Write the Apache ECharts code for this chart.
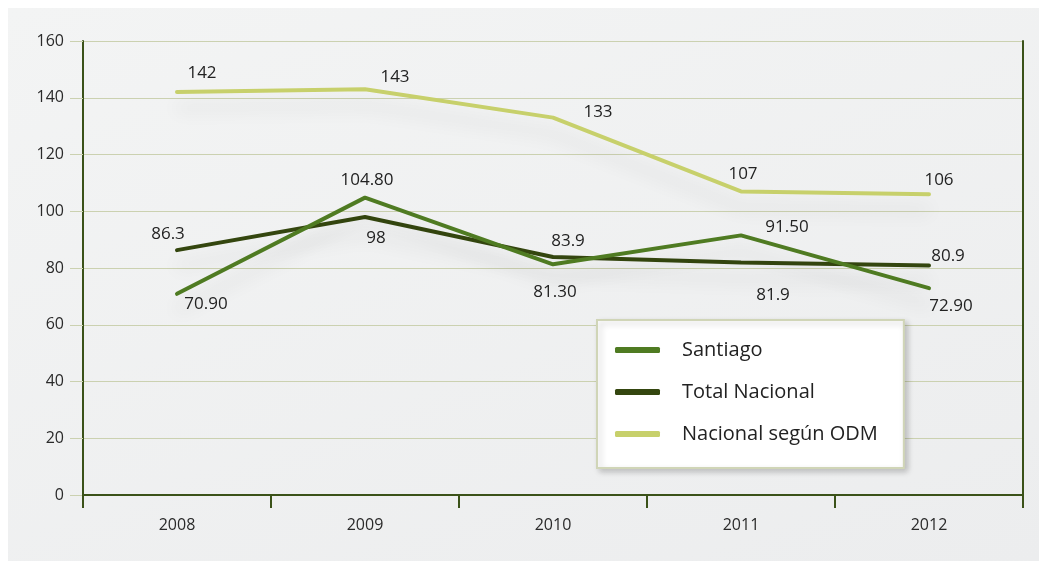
<!DOCTYPE html>
<html lang="es">
<head>
<meta charset="utf-8">
<title>Santiago / Total Nacional / Nacional según ODM</title>
<style>
    html, body { margin: 0; padding: 0; background: #fff; }
    #id-bg {
        position: absolute; left: 8px; top: 8px; width: 1031px; height: 553px;
        background: linear-gradient(160deg, #f3f4f4 0%, #ecedee 100%);
    }
    #id-main-area { position: absolute; left: 0; top: 0; width: 1039px; height: 561px; }
</style>
</head>
<body>
<div id="id-bg"></div>
<div id="id-main-area"></div>
<script src="https://cdn.jsdelivr.net/npm/echarts@6/dist/echarts.min.js"></script>
<script>
    var years = ['2008', '2009', '2010', '2011', '2012']
    var santiago = [70.90, 104.80, 81.30, 91.50, 72.90]
    var totalNacional = [86.3, 98, 83.9, 81.9, 80.9]
    var nacionalOdm = [142, 143, 133, 107, 106]
    var santiagoText = ['70.90', '104.80', '81.30', '91.50', '72.90']
    var totalText = ['86.3', '98', '83.9', '81.9', '80.9']
    var odmText = ['142', '143', '133', '107', '106']

    // label offsets (px), one per point
    var santiagoOffsets = [[29, 10], [2, -17], [2, 28], [46, -8], [22, 18]]
    var totalOffsets = [[-9, -16], [11, 21], [15, -16], [32, 33], [19, -9]]
    var odmOffsets = [[25, -19], [30, -12], [45, -5], [2, -17], [10, -14]]

    var font = '"Open Sans", "Noto Sans", sans-serif'

    var buildData = (values, texts, offsets) => {
        var l = []
        for (var i = 0; i < values.length; i++) {
            l.push({
                value: values[i],
                label: {
                    show: true,
                    position: 'inside',
                    offset: offsets[i],
                    formatter: texts[i],
                },
            })
        }
        return l
    }

    var makeSeries = (name, color, values, texts, offsets, z) => {
        return {
            name: name,
            type: 'line',
            z: z,
            symbol: 'circle',
            symbolSize: 1,
            itemStyle: { color: color },
            lineStyle: {
                color: color,
                width: 4,
                cap: 'round',
                shadowColor: 'rgba(0, 0, 0, 0.12)',
                shadowBlur: 18,
                shadowOffsetY: 16,
            },
            label: {
                color: '#222',
                fontSize: 17,
                fontFamily: font,
            },
            emphasis: { disabled: true },
            data: buildData(values, texts, offsets),
        }
    }

    var showChart = () => {
        var myChart = echarts.init(document.querySelector('#id-main-area'))
        var gridColor = '#cbd1b0'
        var axisColor = '#3b5219'
        var option = {
            animation: false,
            grid: { left: 83, right: 16, top: 41, bottom: 66 },
            legend: {
                orient: 'vertical',
                left: 597,
                top: 320,
                padding: [19, 26, 23, 18],
                itemGap: 20,
                itemWidth: 45,
                itemHeight: 6,
                icon: 'roundRect',
                backgroundColor: '#fff',
                borderColor: '#d0d5b7',
                borderWidth: 2,
                shadowColor: 'rgba(0, 0, 0, 0.2)',
                shadowBlur: 6,
                shadowOffsetX: 3,
                shadowOffsetY: 3,
                textStyle: {
                    color: '#222',
                    fontSize: 20,
                    lineHeight: 22,
                    fontFamily: font,
                    padding: [0, 0, 0, 17],
                },
                data: ['Santiago', 'Total Nacional', 'Nacional según ODM'],
            },
            xAxis: {
                type: 'category',
                data: years,
                boundaryGap: true,
                axisLine: { lineStyle: { color: axisColor, width: 2 } },
                axisTick: { show: true, length: 13, lineStyle: { color: axisColor, width: 2 } },
                axisLabel: { color: '#2a2a2a', fontSize: 16, fontFamily: font, margin: 22 },
                splitLine: { show: false },
            },
            yAxis: [
                {
                    type: 'value',
                    min: 0,
                    max: 160,
                    interval: 20,
                    axisLine: { show: true, lineStyle: { color: axisColor, width: 2 } },
                    axisTick: { show: true, length: 13, lineStyle: { color: gridColor, width: 1 } },
                    axisLabel: { color: '#2a2a2a', fontSize: 16, fontFamily: font, margin: 19 },
                    splitLine: { show: true, lineStyle: { color: gridColor, width: 1 } },
                },
                {
                    type: 'value',
                    position: 'right',
                    min: 0,
                    max: 160,
                    interval: 20,
                    axisLine: { show: true, lineStyle: { color: axisColor, width: 2 } },
                    axisTick: { show: false },
                    axisLabel: { show: false },
                    splitLine: { show: false },
                },
            ],
            series: [
                makeSeries('Santiago', '#4f7b22', santiago, santiagoText, santiagoOffsets, 4),
                makeSeries('Total Nacional', '#34460f', totalNacional, totalText, totalOffsets, 3),
                makeSeries('Nacional según ODM', '#c7d06b', nacionalOdm, odmText, odmOffsets, 2),
            ],
        }
        myChart.setOption(option, true)
    }

    var __main = () => {
        showChart()
    }

    __main()
</script>
</body>
</html>
